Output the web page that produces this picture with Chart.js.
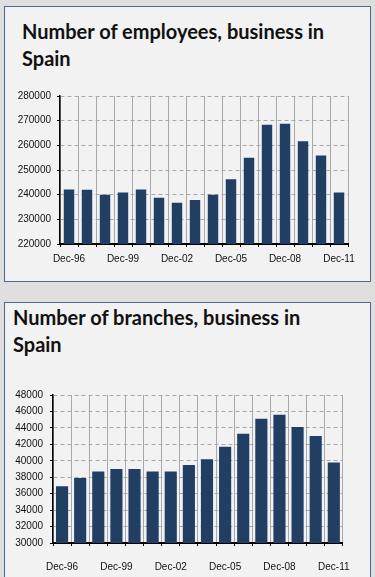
<!DOCTYPE html>
<html>
<head>
<meta charset="utf-8">
<script src="https://cdn.jsdelivr.net/npm/chart.js@4"></script>
<style>
  html, body { margin:0; padding:0; }
  body { width:375px; height:577px; background:#dfdfdf; position:relative; overflow:hidden; font-family:"Liberation Sans", Arial, sans-serif; }
  .panel { position:absolute; background:#f2f2f2; border:1px solid #4d6a92; box-sizing:border-box; }
  .title { position:absolute; font-family:Lato, "Open Sans", sans-serif; font-weight:bold; font-size:20px; line-height:27px; color:#111; white-space:nowrap; }
  canvas { position:absolute; }
</style>
</head>
<body>
<div class="panel" style="left:4px; top:6px; width:367px; height:276px;"></div>
<div class="panel" style="left:4px; top:302px; width:367px; height:290px;"></div>
<div class="title" style="left:22px; top:18px;">Number of employees, business in<br>Spain</div>
<div class="title" style="left:13px; top:304px;">Number of branches, business in<br>Spain</div>
<div style="position:absolute; left:5px; top:84px; width:360px; height:185px;"><canvas id="c1"></canvas></div>
<div style="position:absolute; left:5px; top:382px; width:360px; height:194px;"><canvas id="c2"></canvas></div>
<script>
const years = ['Dec-96','Dec-97','Dec-98','Dec-99','Dec-00','Dec-01','Dec-02','Dec-03','Dec-04','Dec-05','Dec-06','Dec-07','Dec-08','Dec-09','Dec-10','Dec-11'];
const shownLabels = ['Dec-96','Dec-99','Dec-02','Dec-05','Dec-08','Dec-11'];
const employees = [242100, 242000, 240000, 240900, 242100, 238700, 236700, 237800, 240000, 246200, 255000, 268300, 268800, 261700, 255900, 240900];
const branches = [36900, 37900, 38700, 39000, 39000, 38700, 38700, 39500, 40200, 41700, 43300, 45100, 45600, 44100, 43000, 39800];
const empTicks = [220000, 230000, 240000, 250000, 260000, 270000, 280000];
const brTicks = [30000, 32000, 34000, 36000, 38000, 40000, 42000, 44000, 46000, 48000];

const barColor = '#213e63';
const tickFont = { family: '"Liberation Sans", Arial, sans-serif', size: 10 };

function makeChart(id, values, yTicks, opts) {
  return new Chart(document.getElementById(id), {
    type: 'bar',
    data: { labels: years, datasets: [{ data: values, backgroundColor: barColor, borderWidth: 0, barPercentage: opts.barPct, categoryPercentage: 1 }] },
    options: {
      responsive: true, maintainAspectRatio: false, animation: false,
      layout: { padding: { top: 8, right: opts.right, left: 0, bottom: 0 } },
      plugins: { legend: { display: false }, tooltip: { enabled: false }, title: { display: false } },
      scales: {
        x: {
          grid: { display: true, offset: true, color: '#a8a8a8', lineWidth: 1, tickLength: 3, tickColor: '#000' },
          border: { display: true, color: '#000', width: 2 },
          ticks: {
            color: '#111', font: tickFont, padding: opts.xPad, autoSkip: false, maxRotation: 0,
            callback: function(v, i) { const l = years[i]; return shownLabels.includes(l) ? l : ''; }
          },
          afterFit: s => { s.height = opts.xH; }
        },
        y: {
          min: yTicks[0], max: yTicks[yTicks.length - 1],
          afterBuildTicks: s => { s.ticks = yTicks.map(v => ({ value: v })); },
          grid: { color: '#a8a8a8', lineWidth: 1, tickLength: 3, tickColor: '#000' },
          border: { display: true, color: '#000', width: 1.5, dash: [4, 3] },
          ticks: { color: '#111', font: tickFont, padding: opts.yPad, callback: v => String(v) },
          afterFit: s => { s.width = opts.yW; }
        }
      }
    }
  });
}

makeChart('c1', employees, empTicks, { barPct: 0.58, right: 17, xH: 25, yW: 55, xPad: 6, yPad: 6 });
makeChart('c2', branches, brTicks, { barPct: 0.67, right: 14, xH: 33, yW: 48, xPad: 15, yPad: 7 });
</script>
</body>
</html>
